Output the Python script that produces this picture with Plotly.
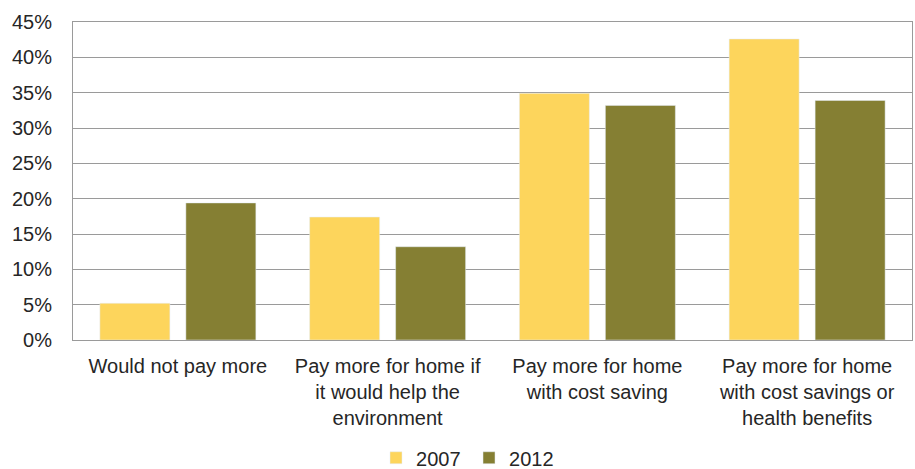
import plotly.graph_objects as go

categories = [
    "Would not pay more",
    "Pay more for home if<br>it would help the<br>environment",
    "Pay more for home<br>with cost saving",
    "Pay more for home<br>with cost savings or<br>health benefits",
]
values_2007 = [5.2, 17.4, 34.9, 42.6]
values_2012 = [19.4, 13.2, 33.2, 33.9]
tick_vals = [0, 5, 10, 15, 20, 25, 30, 35, 40, 45]
tick_text = ["0%", "5%", "10%", "15%", "20%", "25%", "30%", "35%", "40%", "45%"]

FONT = "Liberation Sans, Arial, sans-serif"

fig = go.Figure()
fig.add_trace(go.Bar(name="2007", x=categories, y=values_2007, marker_color="#FDD55C"))
fig.add_trace(go.Bar(name="2012", x=categories, y=values_2012, marker_color="#857F33"))

fig.update_layout(
    width=915, height=469,
    margin=dict(l=73, r=3, t=22, b=129, autoexpand=False),
    paper_bgcolor="white", plot_bgcolor="white",
    barmode="group", bargap=0.18, bargroupgap=0.186,
    font=dict(family=FONT, size=20, color="#262626"),
    showlegend=True,
    legend=dict(orientation="h", x=0.472, xanchor="center", yref="container",
                y=0.024, yanchor="middle", entrywidth=48,
                font=dict(size=20, color="#262626"), itemwidth=30, traceorder="normal"),
)
fig.update_yaxes(range=[0, 45], tickvals=tick_vals, ticktext=tick_text,
                 showgrid=True, gridcolor="#9a9a9a", gridwidth=1,
                 showline=True, linecolor="#9a9a9a", linewidth=1, mirror=True,
                 ticks="", ticklabelstandoff=16, zeroline=False, automargin=False,
                 tickfont=dict(size=20, color="#262626"))
fig.update_xaxes(showline=True, linecolor="#9a9a9a", linewidth=1, mirror=True,
                 ticks="", automargin=False, ticklabelstandoff=8,
                 tickfont=dict(size=20, color="#262626"))

fig.write_html("out.html")
